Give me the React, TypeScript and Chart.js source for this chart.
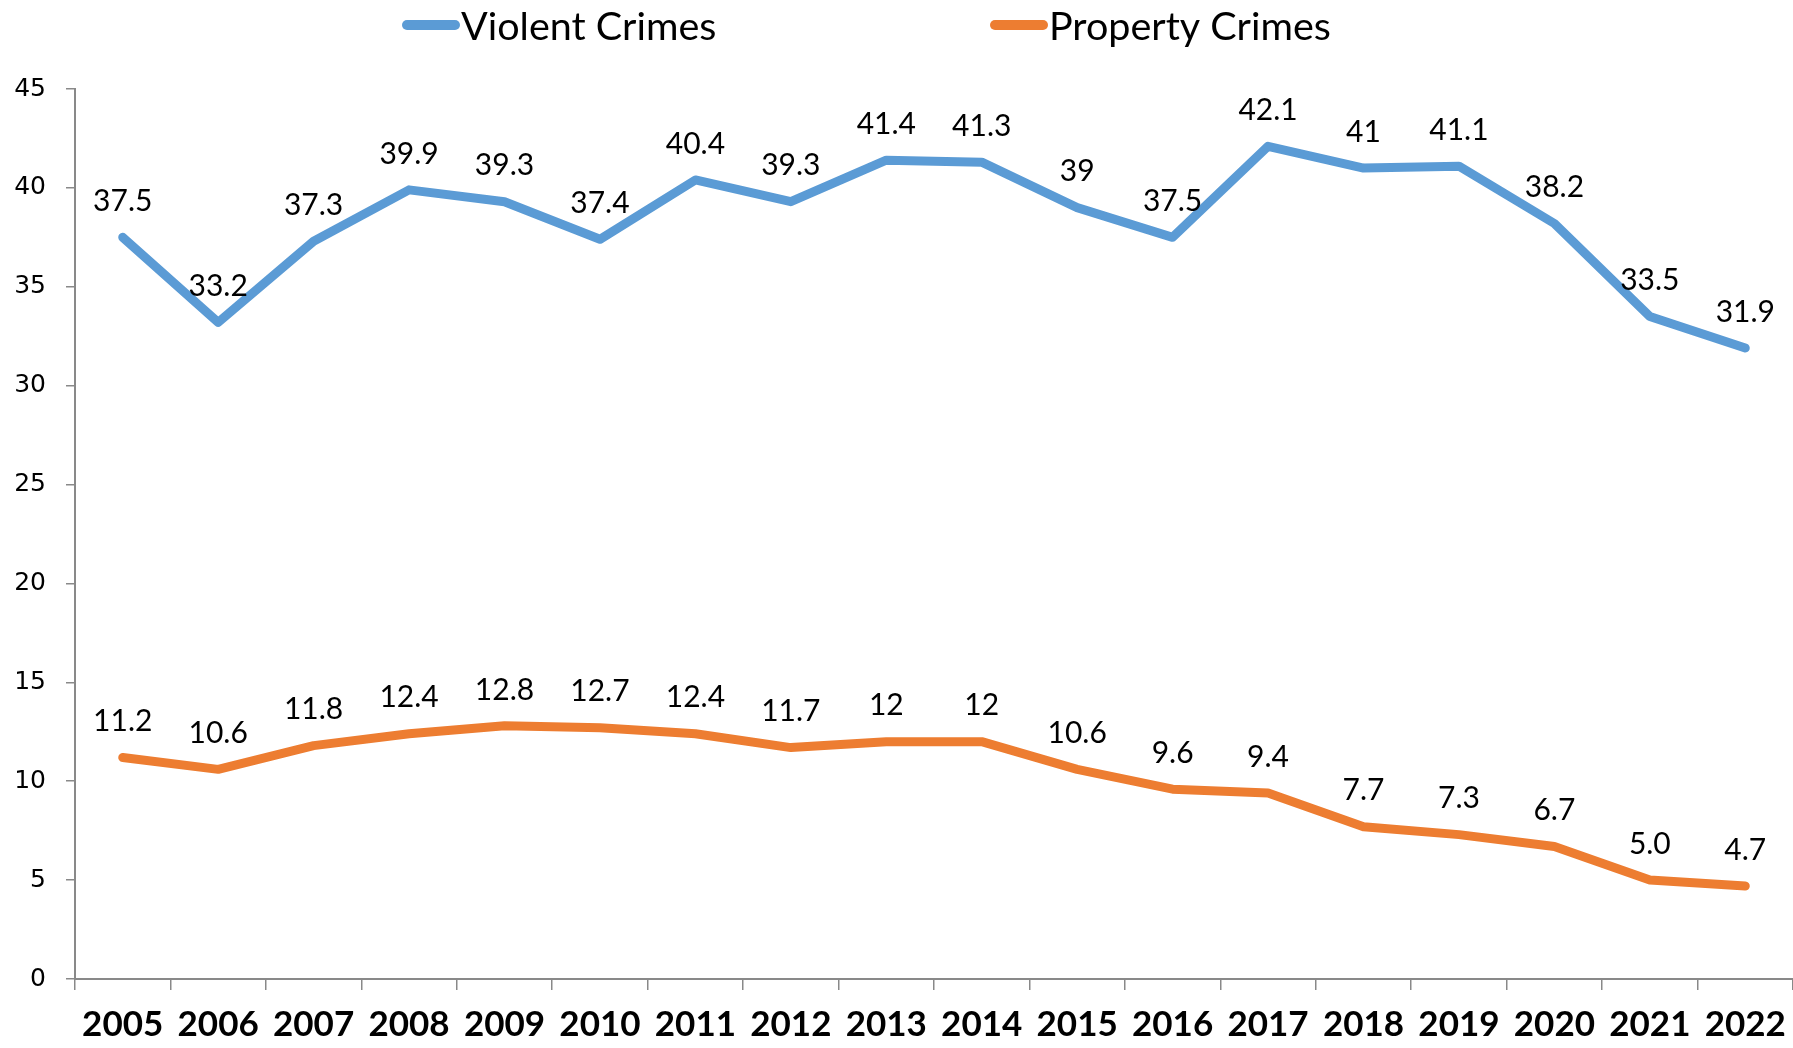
import React, { useEffect, useRef } from "react";
import { Chart, registerables } from "chart.js";

Chart.register(...registerables);

const years = ["2005", "2006", "2007", "2008", "2009", "2010", "2011", "2012", "2013", "2014", "2015", "2016", "2017", "2018", "2019", "2020", "2021", "2022"];
const violentCrimes = [37.5, 33.2, 37.3, 39.9, 39.3, 37.4, 40.4, 39.3, 41.4, 41.3, 39, 37.5, 42.1, 41, 41.1, 38.2, 33.5, 31.9];
const propertyCrimes = [11.2, 10.6, 11.8, 12.4, 12.8, 12.7, 12.4, 11.7, 12, 12, 10.6, 9.6, 9.4, 7.7, 7.3, 6.7, 5.0, 4.7];
const violentLabels = ["37.5", "33.2", "37.3", "39.9", "39.3", "37.4", "40.4", "39.3", "41.4", "41.3", "39", "37.5", "42.1", "41", "41.1", "38.2", "33.5", "31.9"];
const propertyLabels = ["11.2", "10.6", "11.8", "12.4", "12.8", "12.7", "12.4", "11.7", "12", "12", "10.6", "9.6", "9.4", "7.7", "7.3", "6.7", "5.0", "4.7"];
const seriesNames = ["Violent Crimes", "Property Crimes"];
const seriesColors = ["#5B9BD5", "#ED7D31"];
const yMin = 0;
const yMax = 45;
const yStep = 5;

const AXIS_GRAY = "#898989";

const dataLabelPlugin = {
  id: "dataLabels",
  afterDatasetsDraw(chart: any) {
    const ctx = chart.ctx;
    ctx.save();
    ctx.font = "30px Lato";
    ctx.fillStyle = "#000";
    ctx.textAlign = "center";
    ctx.textBaseline = "middle";
    const allLabels = [violentLabels, propertyLabels];
    chart.data.datasets.forEach((_ds: any, di: number) => {
      const meta = chart.getDatasetMeta(di);
      meta.data.forEach((pt: any, i: number) => {
        ctx.fillText(allLabels[di][i], pt.x, pt.y - 36);
      });
    });
    ctx.restore();
  },
};

const customLegendPlugin = {
  id: "customLegend",
  afterDraw(chart: any) {
    const ctx = chart.ctx;
    ctx.save();
    const boxStarts = [402, 990];
    const boxW = 58;
    const boxH = 10;
    const cy = 25;
    ctx.font = "39.5px Lato";
    ctx.textBaseline = "middle";
    ctx.textAlign = "left";
    seriesNames.forEach((name, i) => {
      const x = boxStarts[i];
      ctx.fillStyle = seriesColors[i];
      ctx.beginPath();
      ctx.roundRect(x, cy - boxH / 2, boxW, boxH, boxH / 2);
      ctx.fill();
      ctx.fillStyle = "#000";
      ctx.fillText(name, x + boxW + 1, cy + 2);
    });
    ctx.restore();
  },
};

export default function App() {
  const canvasRef = useRef<HTMLCanvasElement | null>(null);

  useEffect(() => {
    const canvas = canvasRef.current;
    if (!canvas) return;
    const chart = new Chart(canvas, {
      type: "line",
      data: {
        labels: years,
        datasets: [
          {
            label: seriesNames[0],
            data: violentCrimes,
            borderColor: seriesColors[0],
            backgroundColor: seriesColors[0],
            borderWidth: 9,
            borderCapStyle: "round",
            borderJoinStyle: "round",
            pointRadius: 0,
            tension: 0,
          },
          {
            label: seriesNames[1],
            data: propertyCrimes,
            borderColor: seriesColors[1],
            backgroundColor: seriesColors[1],
            borderWidth: 9,
            borderCapStyle: "round",
            borderJoinStyle: "round",
            pointRadius: 0,
            tension: 0,
          },
        ],
      },
      options: {
        animation: false,
        responsive: false,
        devicePixelRatio: 1,
        layout: { padding: { top: 89, right: -7, left: 0, bottom: 0 } },
        plugins: {
          legend: { display: false },
          tooltip: { enabled: false },
        },
        scales: {
          x: {
            type: "category",
            offset: true,
            grid: {
              display: true,
              offset: true,
              drawOnChartArea: false,
              drawTicks: true,
              tickLength: 11,
              color: AXIS_GRAY,
              lineWidth: 1.5,
            },
            border: { display: true, color: AXIS_GRAY, width: 2 },
            ticks: {
              color: "#000",
              font: { family: "Lato", size: 35, weight: "bold" },
              padding: 14,
              maxRotation: 0,
              autoSkip: false,
            },
            afterFit(scale: any) {
              scale.height = 69;
              scale.paddingRight = 0;
              scale.paddingLeft = 0;
            },
          },
          y: {
            min: yMin,
            max: yMax,
            grid: {
              display: true,
              drawOnChartArea: false,
              drawTicks: true,
              tickLength: 9,
              color: AXIS_GRAY,
              lineWidth: 1.5,
            },
            border: { display: true, color: AXIS_GRAY, width: 2 },
            ticks: {
              stepSize: yStep,
              color: "#000",
              font: { family: "DejaVu Sans", size: 25 },
              padding: 20,
            },
            afterFit(scale: any) {
              scale.width = 75;
            },
          },
        },
      },
      plugins: [dataLabelPlugin, customLegendPlugin],
    });
    return () => {
      chart.destroy();
    };
  }, []);

  return (
    <div style={{ position: "absolute", left: 0, top: 0, width: 1793, height: 1048, background: "#fff" }}>
      <canvas ref={canvasRef} width={1793} height={1048} style={{ display: "block" }} />
    </div>
  );
}
